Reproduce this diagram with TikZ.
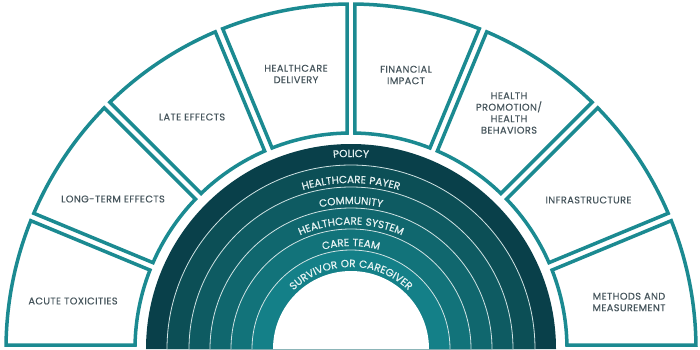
\documentclass[tikz,border=0pt]{standalone}
\usepackage{fontspec}
\setmainfont{Poppins}[LetterSpace=4,FakeBold=0.5]
\usetikzlibrary{decorations.text}
\definecolor{boxteal}{HTML}{1B8A91}
\definecolor{txtgray}{HTML}{46555C}
\definecolor{bandA}{HTML}{09404A}
\definecolor{bandB}{HTML}{0C4F56}
\definecolor{bandC}{HTML}{0E5B62}
\definecolor{bandD}{HTML}{10676E}
\definecolor{bandE}{HTML}{12737A}
\definecolor{bandF}{HTML}{148088}
\definecolor{bandtxt}{HTML}{E6F2F2}
\newcommand\rlfont{\fontsize{10.4}{11}\selectfont\color{bandtxt}}
\begin{document}
\begin{tikzpicture}[x=1pt,y=1pt,
  boxline/.style={draw=boxteal, line width=3.5pt, line join=miter},
  boxtext/.style={text=txtgray, font=\fontsize{9.8}{11.5}\selectfont, align=center, inner sep=0pt},
  sepline/.style={draw=white!80!bandE, line width=0.8pt}]
\useasboundingbox (-351,0) rectangle (349,349);
% bands
\foreach \r/\c in {205/bandA,184/bandB,162/bandC,141/bandD,120/bandE,99/bandF}
  \fill[\c] (-\r,0) arc[start angle=180,end angle=0,radius=\r] -- cycle;
\foreach \r in {184,162,141,120,99}
  \draw[sepline] (-\r,0) arc[start angle=180,end angle=0,radius=\r];
\fill[white] (-78,0) arc[start angle=180,end angle=0,radius=78] -- cycle;
% band labels
\foreach \r/\t in {192/POLICY,166/HEALTHCARE PAYER,145/COMMUNITY,124.5/HEALTHCARE SYSTEM,103/CARE TEAM,82/SURVIVOR OR CAREGIVER}
  \path[decorate,decoration={text along path,text align=center,text={|\rlfont|\t}}]
    (-\r,0) arc[start angle=180,end angle=0,radius=\r];
% outer boxes
\pgfmathsetmacro\din{asin(4/216)}
\pgfmathsetmacro\dout{asin(4/345)}
\foreach \i in {0,...,7}{
  \pgfmathsetmacro\aone{22.5*\i}
  \pgfmathsetmacro\atwo{22.5*\i+22.5}
  \draw[boxline] (\aone+\dout:345) arc[start angle=\aone+\dout,end angle=\atwo-\dout,radius=345]
    -- (\atwo-\din:216) arc[start angle=\atwo-\din,end angle=\aone+\din,radius=216] -- cycle;
}
\node[boxtext] (acute) at (-278,48) {ACUTE TOXICITIES};
\node[boxtext] (longterm) at (-238,150) {LONG-TERM EFFECTS};
\node[boxtext] (late) at (-159,232) {LATE EFFECTS};
\node[boxtext] (delivery) at (-55,275) {HEALTHCARE\\DELIVERY};
\node[boxtext] (financial) at (55,274) {FINANCIAL\\IMPACT};
\node[boxtext] (promotion) at (158,236) {HEALTH\\PROMOTION/\\HEALTH\\BEHAVIORS};
\node[boxtext] (infra) at (237.5,149) {INFRASTRUCTURE};
\node[boxtext] (methods) at (278,47) {METHODS AND\\MEASUREMENT};
\end{tikzpicture}
\end{document}
